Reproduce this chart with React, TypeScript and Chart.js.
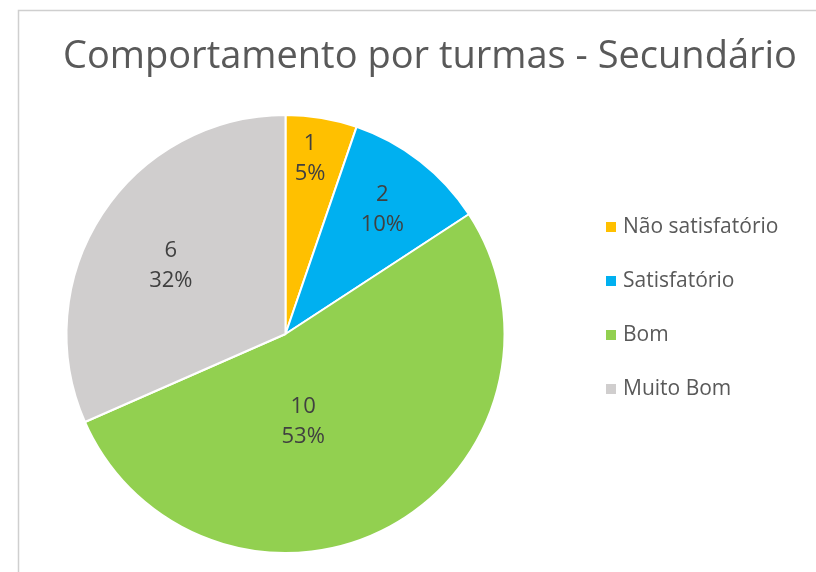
import React, { useEffect, useRef } from "react";
import { Chart, registerables } from "chart.js";

Chart.register(...registerables);

const title = "Comportamento por turmas - Secundário";
const categories = ["Não satisfatório", "Satisfatório", "Bom", "Muito Bom"];
const values = [1, 2, 10, 6];
const colors = ["#FFC000", "#00B0F0", "#92D050", "#D0CECE"];

// label placement within each slice (fraction of slice angle, fraction of radius)
const labelAngleFrac = [0.42, 0.5, 0.59, 0.48];
const labelRadiusFrac = [0.81, 0.72, 0.41, 0.61];

function largestRemainderPercents(vals: number[]): number[] {
  const total = vals.reduce((a, b) => a + b, 0);
  const raw = vals.map((v) => (v / total) * 100);
  const fl = raw.map((r) => Math.floor(r));
  let left = 100 - fl.reduce((a, b) => a + b, 0);
  const order = raw
    .map((r, i) => ({ i, rem: r - Math.floor(r) }))
    .sort((a, b) => b.rem - a.rem);
  for (let k = 0; k < order.length && left > 0; k++, left--) fl[order[k].i] += 1;
  return fl;
}

const FONT = "'Open Sans', 'Noto Sans', sans-serif";

const decorPlugin = {
  id: "excelDecor",
  beforeDraw(chart: any) {
    const ctx = chart.ctx;
    ctx.save();
    ctx.fillStyle = "#ffffff";
    ctx.fillRect(0, 0, chart.width, chart.height);
    ctx.strokeStyle = "#CFCFCF";
    ctx.lineWidth = 1.5;
    ctx.strokeRect(18.5, 10.5, chart.width + 20, chart.height + 20);
    ctx.restore();
  },
  afterDraw(chart: any) {
    const ctx = chart.ctx;
    ctx.save();
    // title
    ctx.fillStyle = "#595959";
    ctx.font = `38px ${FONT}`;
    ctx.textAlign = "center";
    ctx.textBaseline = "alphabetic";
    ctx.fillText(title, 430, 68);

    // legend
    const labels: string[] = chart.data.labels;
    const bg: string[] = chart.data.datasets[0].backgroundColor;
    ctx.font = `21px ${FONT}`;
    ctx.textAlign = "left";
    ctx.textBaseline = "middle";
    labels.forEach((lab, i) => {
      const cy = 227 + i * 54;
      ctx.fillStyle = bg[i];
      ctx.fillRect(606, cy - 5, 10, 10);
      ctx.fillStyle = "#595959";
      ctx.fillText(lab, 623, cy);
    });

    // data labels
    const meta = chart.getDatasetMeta(0);
    const data: number[] = chart.data.datasets[0].data;
    const pcts = largestRemainderPercents(data);
    ctx.font = `22px ${FONT}`;
    ctx.textAlign = "center";
    ctx.fillStyle = "#404040";
    meta.data.forEach((arc: any, i: number) => {
      const { x, y, startAngle, endAngle, outerRadius } = arc.getProps(
        ["x", "y", "startAngle", "endAngle", "outerRadius"],
        true
      );
      const a = startAngle + (endAngle - startAngle) * labelAngleFrac[i];
      const r = outerRadius * labelRadiusFrac[i];
      const lx = x + Math.cos(a) * r;
      const ly = y + Math.sin(a) * r;
      ctx.fillText(String(data[i]), lx, ly - 15);
      ctx.fillText(pcts[i] + "%", lx, ly + 15);
    });
    ctx.restore();
  },
};

export default function App() {
  const ref = useRef<HTMLCanvasElement | null>(null);
  useEffect(() => {
    if (!ref.current) return;
    const chart = new Chart(ref.current, {
      type: "pie",
      data: {
        labels: categories,
        datasets: [
          {
            data: values,
            backgroundColor: colors,
            borderColor: "#ffffff",
            borderWidth: 2,
          },
        ],
      },
      options: {
        animation: false,
        responsive: false,
        maintainAspectRatio: false,
        layout: { padding: { left: 65.5, right: 310.5, top: 114, bottom: 18 } },
        plugins: {
          legend: { display: false },
          title: { display: false },
          tooltip: { enabled: false },
        },
      },
      plugins: [decorPlugin],
    });
    return () => chart.destroy();
  }, []);
  return (
    <div style={{ position: "fixed", left: 0, top: 0, width: 816, height: 572, background: "#fff" }}>
      <canvas ref={ref} width={816} height={572} style={{ width: 816, height: 572, display: "block" }} />
    </div>
  );
}
